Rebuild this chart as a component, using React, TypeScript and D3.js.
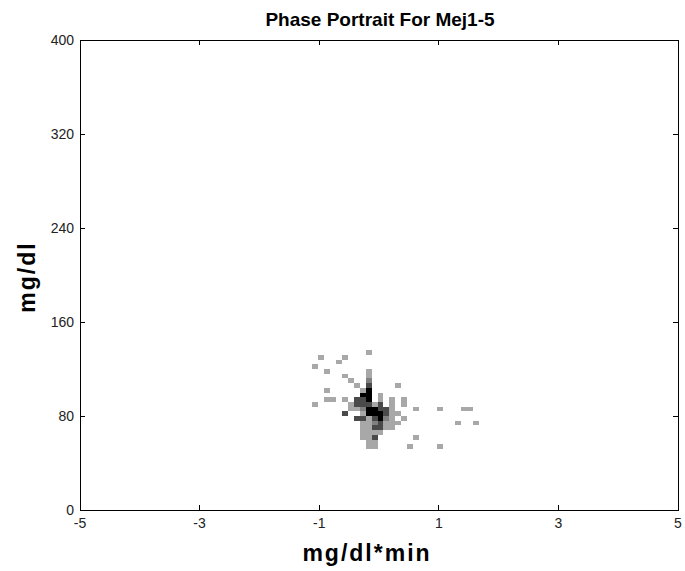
import React, { useEffect, useRef } from "react";
import * as d3 from "d3";

const title = "Phase Portrait For Mej1-5";
const xLabel = "mg/dl*min";
const yLabel = "mg/dl";
const xTicks = [-5, -3, -1, 1, 3, 5];
const yTicks = [0, 80, 160, 240, 320, 400];
const xDomain = [-5, 5];
const yDomain = [0, 400];
const binX = 0.1;
const binY = 4;

// cells: x bin index (tenths), y bin lower edge, level (1 light .. 4 black)
const cellX = [
  -2, -10, -6, -7, -11, -9, -2, -2, -6, -5, -4, 3, -9, -3, -9, -8, -6, -11, -5, 0, 0, 2, 2, 4, 4, 6, 10, 14, 15, 3, 4, 13, 16, 6, 5, 10, -2, -1,
  -2, -2, -2, -2, -2, -2, -2, -2, -2, -2, -2, -2, -2, -2,
  -3, -3, -3, -3, -3, -3, -3, -3, -3, -3,
  -4, -4, -4, -4,
  -5, -6,
  -1, -1, -1, -1, -1, -1, -1, -1, -1,
  0, 0, 0, 0, 0, 0, 0,
  1, 1, 1, 1, 1,
  2, 2, 2, 2, 2,
  3,
];
const cellY = [
  132, 128, 128, 124, 120, 116, 116, 112, 112, 108, 104, 104, 100, 100, 92, 92, 92, 88, 88, 92, 96, 92, 88, 92, 88, 84, 84, 84, 84, 80, 76, 72, 72, 60, 52, 52, 52, 52,
  108, 104, 100, 96, 92, 88, 84, 80, 76, 72, 68, 64, 60, 56,
  96, 92, 88, 84, 80, 76, 72, 68, 64, 60,
  92, 88, 84, 76,
  84, 80,
  88, 84, 80, 76, 72, 68, 64, 60, 56,
  88, 84, 80, 76, 72, 68, 64,
  84, 80, 76, 72, 68,
  84, 80, 76, 72, 68,
  72,
];
const cellLevel = [
  1, 1, 1, 1, 1, 1, 1, 1, 1, 1, 1, 1, 1, 1, 1, 1, 1, 1, 1, 1, 1, 1, 1, 1, 1, 1, 1, 1, 1, 1, 1, 1, 1, 1, 1, 1, 1, 1,
  2, 3, 4, 4, 4, 3, 4, 4, 1, 1, 1, 1, 1, 1,
  4, 3, 3, 2, 1, 3, 1, 1, 1, 1,
  3, 3, 1, 3,
  1, 3,
  1, 4, 4, 3, 2, 3, 1, 3, 1,
  3, 3, 4, 4, 3, 3, 1,
  3, 3, 2, 1, 1,
  1, 1, 1, 1, 1,
  1,
];
const levelColors = ["#ffffff", "#a8a8a8", "#808080", "#4a4a4a", "#000000"];

export default function App() {
  const ref = useRef<SVGSVGElement>(null);
  useEffect(() => {
    const W = 685, H = 571;
    const m = { left: 80, right: 7, top: 40, bottom: 61 };
    const svg = d3.select(ref.current);
    svg.selectAll("*").remove();
    const x = d3.scaleLinear().domain(xDomain).range([m.left, W - m.right]);
    const y = d3.scaleLinear().domain(yDomain).range([H - m.bottom, m.top]);

    svg.append("rect").attr("width", W).attr("height", H).attr("fill", "#fff");

    const cells = cellX.map((cx, k) => ({ i: cx, L: cellY[k], lv: cellLevel[k] }));
    svg.append("g").selectAll("rect").data(cells).join("rect")
      .attr("x", (d) => x(d.i * binX) - 1.5)
      .attr("y", (d) => y(d.L + binY))
      .attr("width", (d) => x((d.i + 1) * binX) - x(d.i * binX))
      .attr("height", (d) => y(d.L) - y(d.L + binY))
      .attr("fill", (d) => levelColors[d.lv])
      .attr("shape-rendering", "crispEdges");

    const font = "'Liberation Sans', Arial, sans-serif";
    const tickLen = 5;
    const axG = svg.append("g").attr("shape-rendering", "crispEdges");
    axG.append("rect")
      .attr("x", m.left).attr("y", m.top)
      .attr("width", W - m.right - m.left).attr("height", H - m.bottom - m.top)
      .attr("fill", "none").attr("stroke", "#000").attr("stroke-width", 1);

    xTicks.forEach((t) => {
      axG.append("line").attr("x1", x(t)).attr("x2", x(t))
        .attr("y1", y(0)).attr("y2", y(0) - tickLen).attr("stroke", "#000");
      axG.append("line").attr("x1", x(t)).attr("x2", x(t))
        .attr("y1", m.top).attr("y2", m.top + tickLen).attr("stroke", "#000");
      svg.append("text").attr("x", x(t)).attr("y", y(0) + 18)
        .attr("text-anchor", "middle").attr("font-family", font).attr("font-size", 14)
        .attr("fill", "#222").text(String(t));
    });
    yTicks.forEach((t) => {
      axG.append("line").attr("x1", m.left).attr("x2", m.left + tickLen)
        .attr("y1", y(t)).attr("y2", y(t)).attr("stroke", "#000");
      axG.append("line").attr("x1", W - m.right).attr("x2", W - m.right - tickLen)
        .attr("y1", y(t)).attr("y2", y(t)).attr("stroke", "#000");
      svg.append("text").attr("x", m.left - 6).attr("y", y(t) + 5)
        .attr("text-anchor", "end").attr("font-family", font).attr("font-size", 14)
        .attr("fill", "#222").text(String(t));
    });

    svg.append("text").attr("x", 380).attr("y", 26)
      .attr("text-anchor", "middle").attr("font-family", font).attr("font-weight", "bold")
      .attr("font-size", 19).attr("fill", "#000").text(title);
    svg.append("text").attr("x", 367).attr("y", 561)
      .attr("text-anchor", "middle").attr("font-family", font).attr("font-weight", "bold")
      .attr("font-size", 23).attr("letter-spacing", 2).attr("fill", "#000").text(xLabel);
    svg.append("text").attr("transform", `translate(35,277) rotate(-90)`)
      .attr("text-anchor", "middle").attr("font-family", font).attr("font-weight", "bold")
      .attr("font-size", 23).attr("letter-spacing", 2).attr("fill", "#000").text(yLabel);
  }, []);
  return (
    <svg ref={ref} width={685} height={571}
      style={{ position: "absolute", left: 0, top: 0, display: "block" }} />
  );
}
